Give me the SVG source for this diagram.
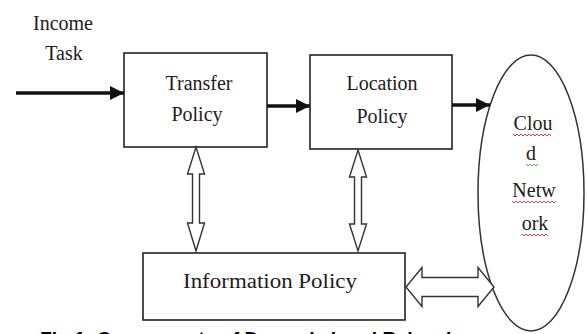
<svg xmlns="http://www.w3.org/2000/svg" width="587" height="334" viewBox="0 0 587 334">
<defs>
<marker id="ah" markerWidth="14" markerHeight="14" viewBox="0 0 14 14" refX="14" refY="7" orient="auto" markerUnits="userSpaceOnUse">
<path d="M0,0 L14,7 L0,14 Z" fill="#111"/>
</marker>
<style>
.box{fill:#fff;stroke:#222;stroke-width:1.6}
.t{font-family:"Liberation Serif","Times New Roman",serif;font-size:20px;fill:#231a23;text-anchor:middle}
.flow{stroke:#111;stroke-width:3.5;fill:none}
.dbl{fill:#fff;stroke:#333;stroke-width:1.4;stroke-linejoin:miter}
.sq{fill:none;stroke-width:0.9}
.cap{font-family:"Liberation Sans",Arial,sans-serif;font-weight:bold;font-size:18px;fill:#000}
</style>
</defs>
<rect width="587" height="334" fill="#fff"/>
<g id="income">
<text class="t" x="63" y="30">Income</text>
<text class="t" x="64" y="60">Task</text>
</g>
<g id="transfer">
<rect class="box" x="124" y="53" width="143" height="94"/>
<text class="t" x="199" y="90">Transfer</text>
<text class="t" x="197" y="121">Policy</text>
</g>
<g id="location">
<rect class="box" x="310" y="55" width="142" height="94"/>
<text class="t" x="382" y="90">Location</text>
<text class="t" x="382" y="123">Policy</text>
</g>
<g id="cloud">
<ellipse cx="531" cy="193" rx="53" ry="138" fill="none" stroke="#333" stroke-width="1.5"/>
<text class="t" x="533" y="130">Clou</text>
<text class="t" x="531" y="160">d</text>
<text class="t" x="534" y="197">Netw</text>
<text class="t" x="535" y="230">ork</text>
<path class="sq" stroke="#d23" d="M513,134 l2,2 l2,-2 l2,2 l2,-2 l2,2 l2,-2 l2,2 l2,-2 l2,2 l2,-2 l2,2 l2,-2 l2,2 l2,-2 l2,2 l2,-2 l2,2 l2,-2 l2,2"/>
<path class="sq" stroke="#3a3" d="M526,164 l2,2 l2,-2 l2,2 l2,-2 l2,2 l2,-2"/>
<path class="sq" stroke="#d23" d="M512,201 l2,2 l2,-2 l2,2 l2,-2 l2,2 l2,-2 l2,2 l2,-2 l2,2 l2,-2 l2,2 l2,-2 l2,2 l2,-2 l2,2 l2,-2 l2,2 l2,-2 l2,2 l2,-2 l2,2 l2,-2"/>
<path class="sq" stroke="#d23" d="M522,234 l2,2 l2,-2 l2,2 l2,-2 l2,2 l2,-2 l2,2 l2,-2 l2,2 l2,-2 l2,2 l2,-2 l2,2"/>
</g>
<g id="information">
<rect class="box" x="143" y="253" width="262" height="67"/>
<text class="t" x="270" y="288" font-size="21" textLength="174" lengthAdjust="spacingAndGlyphs">Information Policy</text>
</g>
<g id="connectors">
<line class="flow" x1="16" y1="93" x2="124" y2="93" marker-end="url(#ah)"/>
<line class="flow" x1="267" y1="106" x2="310" y2="106" marker-end="url(#ah)"/>
<line class="flow" x1="452" y1="105" x2="490" y2="105" marker-end="url(#ah)"/>
<path class="dbl" d="M196,147 L204.5,174 L199.5,174 L199.5,223 L204.5,223 L196,251 L187.5,223 L192.5,223 L192.5,174 L187.5,174 Z"/>
<path class="dbl" d="M358,150 L366.5,177 L361.5,177 L361.5,224 L366.5,224 L358,251 L349.5,224 L354.5,224 L354.5,177 L349.5,177 Z"/>
<path class="dbl" d="M406,287 L422,267.5 L422,277.5 L478,277.5 L478,267.5 L494,287 L478,306.5 L478,296.5 L422,296.5 L422,306.5 Z"/>
</g>
<text class="cap" x="40" y="345" textLength="435" lengthAdjust="spacingAndGlyphs">Fig.1: Components of Dynamic Load Balancing</text>
</svg>
